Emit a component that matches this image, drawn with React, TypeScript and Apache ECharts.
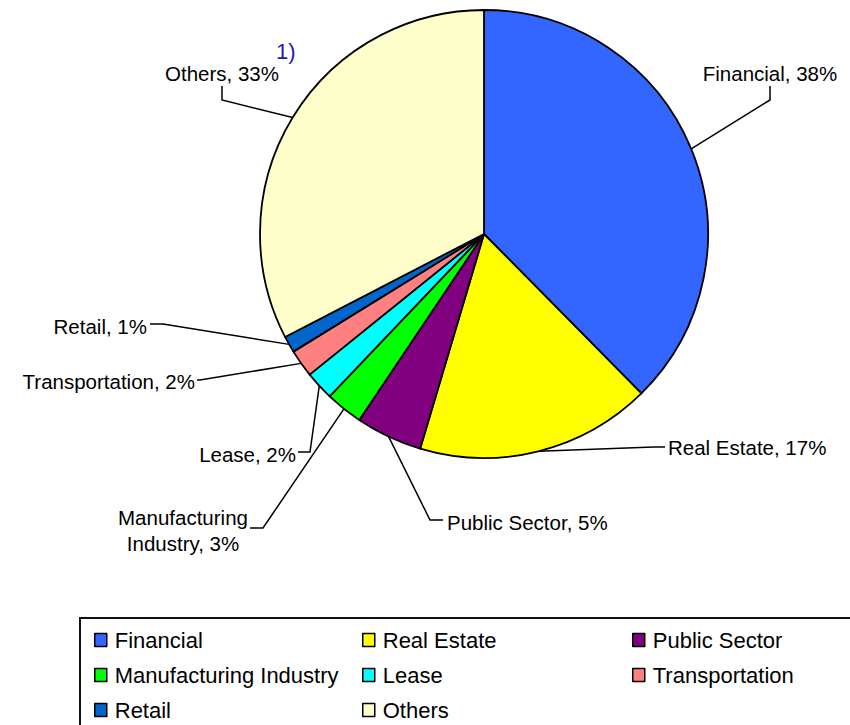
import React, { useEffect, useRef } from 'react';
import * as echarts from 'echarts';

const categories = [
  'Financial',
  'Real Estate',
  'Public Sector',
  'Manufacturing Industry',
  'Lease',
  'Transportation',
  'Retail',
  'Others',
];
const shares = [37.6, 17.0, 4.8, 2.7, 2.1, 2.0, 1.2, 32.6];
const labelNames = [
  'Financial',
  'Real Estate',
  'Public Sector',
  'Manufacturing\nIndustry',
  'Lease',
  'Transportation',
  'Retail',
  'Others',
];
const colors = ['#3366FF', '#FFFF00', '#800080', '#00FF00', '#00FFFF', '#FF8080', '#0066CC', '#FFFFCC'];
const legendColumns = [
  [0, 3, 6],
  [1, 4, 7],
  [2, 5],
];
const footnote = '1)';

const FONT = '"Liberation Sans", Arial, Helvetica, sans-serif';
const CX = 484;
const CY = 234;
const R = 224;

type Placement = {
  x: number;
  y: number;
  align: 'left' | 'right' | 'center';
  elbow: [number, number];
  end: [number, number];
};

const placements: Placement[] = [
  { x: 770, y: 73, align: 'center', elbow: [770, 100], end: [770, 86] },
  { x: 668, y: 447, align: 'left', elbow: [654, 447], end: [665, 447] },
  { x: 447, y: 522, align: 'left', elbow: [430, 520], end: [443, 520] },
  { x: 183, y: 530, align: 'center', elbow: [263, 528], end: [250, 528] },
  { x: 296, y: 454, align: 'right', elbow: [310, 452], end: [298, 452] },
  { x: 195, y: 381, align: 'right', elbow: [200, 380], end: [197, 380] },
  { x: 147, y: 326, align: 'right', elbow: [163, 324], end: [150, 324] },
  { x: 222, y: 73, align: 'center', elbow: [222, 100], end: [222, 86] },
];

function edgePoint(index: number): [number, number] {
  const total = shares.reduce((a, b) => a + b, 0);
  let before = 0;
  for (let i = 0; i < index; i++) before += shares[i];
  const mid = ((before + shares[index] / 2) / total) * Math.PI * 2;
  return [CX + R * Math.sin(mid), CY - R * Math.cos(mid)];
}

export default function App() {
  const ref = useRef<HTMLDivElement>(null);

  useEffect(() => {
    if (!ref.current) return;
    const chart = echarts.init(ref.current, undefined, { renderer: 'svg' });

    const legends = legendColumns.map((col, i) => ({
      orient: 'vertical' as const,
      left: [94, 362, 632][i],
      top: 629,
      padding: 0,
      itemWidth: 12,
      itemHeight: 13,
      itemGap: 13,
      icon: 'rect',
      selectedMode: false,
      data: col.map((k) => categories[k]),
      itemStyle: { borderColor: '#000', borderWidth: 1.5 },
      textStyle: {
        fontFamily: FONT,
        fontSize: 22,
        color: '#000',
        lineHeight: 22,
        padding: [0, 0, 0, 3],
      },
    }));

    chart.setOption({
      animation: false,
      backgroundColor: '#fff',
      legend: legends,
      graphic: [
        {
          type: 'rect',
          shape: { x: 80, y: 618, width: 820, height: 200 },
          style: { fill: 'none', stroke: '#111', lineWidth: 2 },
          silent: true,
        },
        {
          type: 'text',
          x: 276,
          y: 51,
          style: {
            text: footnote,
            fill: '#1c1cb4',
            font: `22px ${FONT}`,
            verticalAlign: 'middle',
            align: 'left',
          },
          silent: true,
        },
      ],
      series: [
        {
          type: 'pie',
          center: [CX, CY],
          radius: R,
          startAngle: 90,
          clockwise: true,
          avoidLabelOverlap: false,
          silent: true,
          data: categories.map((name, i) => ({
            name,
            value: shares[i],
            itemStyle: { color: colors[i] },
          })),
          itemStyle: { borderColor: '#000', borderWidth: 1.8 },
          label: {
            show: true,
            position: 'outside',
            color: '#000',
            fontFamily: FONT,
            fontSize: 20.5,
            lineHeight: 26,
            align: 'center',
            formatter: (p: any) => `${labelNames[p.dataIndex]}, ${Math.round(p.value)}%`,
          },
          labelLine: {
            show: true,
            smooth: false,
            lineStyle: { color: '#000', width: 1.5 },
          },
          labelLayout: (params: any) => {
            const pl = placements[params.dataIndex];
            const pts = params.labelLinePoints;
            const start: [number, number] =
              pts && pts[0] ? [pts[0][0], pts[0][1]] : edgePoint(params.dataIndex);
            return {
              x: pl.x,
              y: pl.y,
              align: pl.align,
              verticalAlign: 'middle',
              labelLinePoints: [start, pl.elbow, pl.end],
            };
          },
        },
      ],
    });

    return () => chart.dispose();
  }, []);

  return (
    <div
      ref={ref}
      style={{ position: 'absolute', left: 0, top: 0, width: 850, height: 725 }}
    />
  );
}
